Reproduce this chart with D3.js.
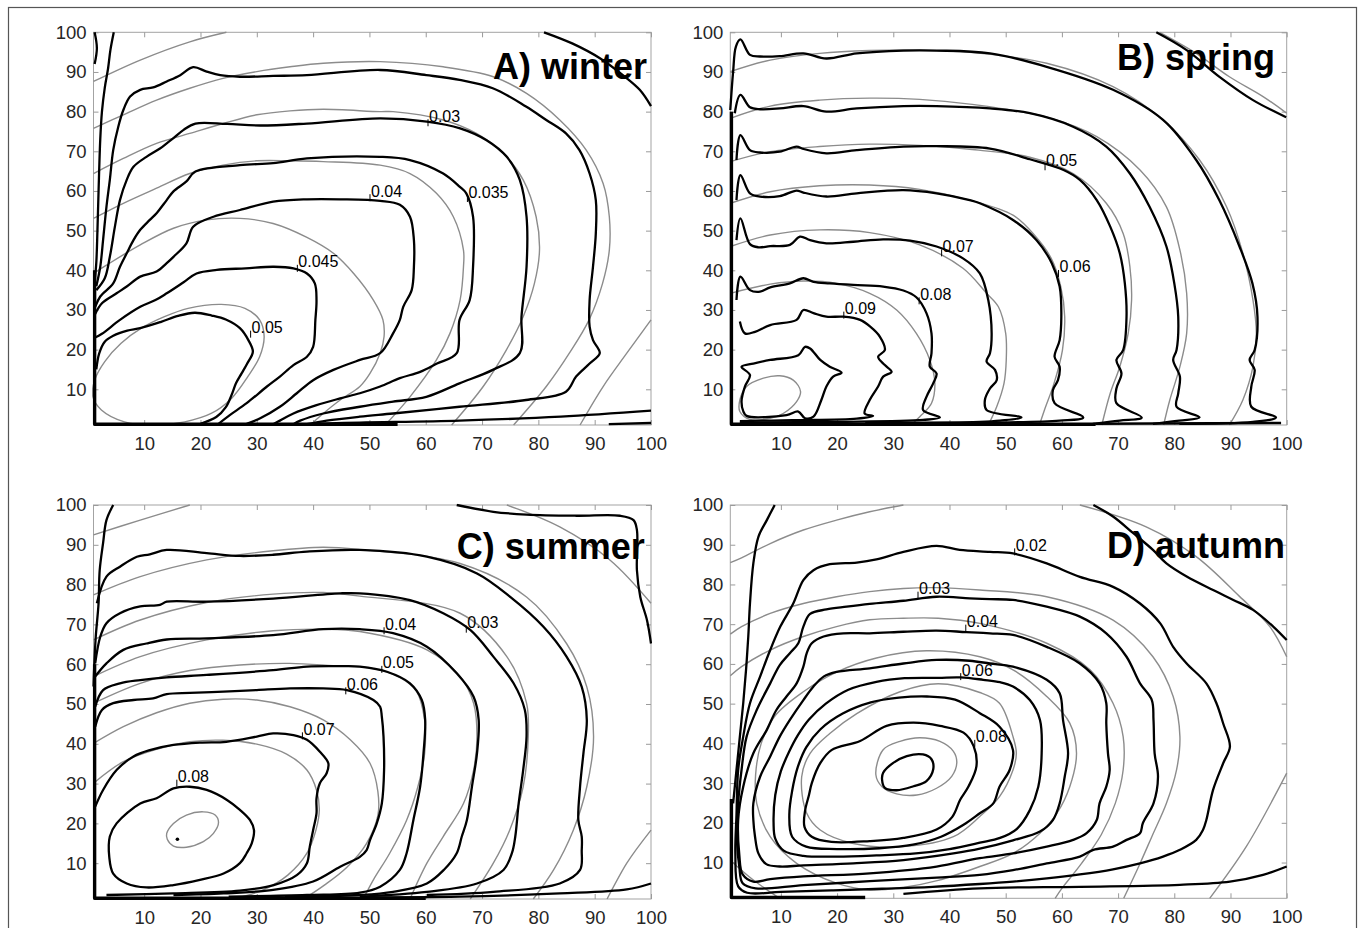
<!DOCTYPE html>
<html lang="en">
<head>
<meta charset="utf-8">
<title>Seasonal density contours</title>
<script src="https://cdn.jsdelivr.net/npm/d3@7"></script>
<style>
  body { margin: 0; background: #fff; }
  svg { display: block; font-family: "Liberation Sans", Arial, sans-serif; }
</style>
</head>
<body>
<script>
// ---- data (axis units 1..100) ----
const ticks = [10, 20, 30, 40, 50, 60, 70, 80, 90, 100];
const seasons = ['A) winter', 'B) spring', 'C) summer', 'D) autumn'];

// A) winter : empirical contours (black)
const winterLines = [
  {level: 0.05, pts: [[1.5,15],[2,19],[3,22],[4.5,23.5],[7,24.8],[9.3,25.4],[13,27],[16,28.5],[19,29.3],[22,28.6],[24.5,27.6],[27,25.4],[28.5,22.4],[29.3,19.5],[28.3,16.5],[27.3,14],[26.3,11.5],[25.5,8.5],[24.5,5.5],[22.8,3],[20,1.3]]},
  {level: 0.045, pts: [[1.2,23],[2.5,24],[5.7,27.5],[9.3,30.8],[12,32.5],[14,34.2],[17,37],[19.3,39.2],[22.9,40.1],[28,40.5],[33,40.9],[36.5,40.5],[38.9,39.2],[40.3,36.7],[40.6,32.5],[40.4,27.5],[40,20.7],[38.9,18.2],[36.5,16.1],[34.1,13.2],[31.8,10.7],[28.2,6.5],[25.2,3.5],[23.2,1.3]]},
  {level: 0.04, pts: [[1.3,29],[2.5,31.7],[5.1,34.2],[6.9,35.9],[9.3,38.4],[12.2,39.7],[14,41.8],[15.2,43.4],[17.5,46.8],[18.7,51],[22.3,53.5],[27,55.2],[32.9,57.3],[38.9,57.9],[44.8,57.9],[51.9,57.5],[55.4,56.5],[57.2,53.5],[57.9,47.6],[57.9,40.9],[57.5,35],[56,30.8],[55.4,27.5],[54.2,24.1],[51.9,19.1],[48.3,17.4],[43.6,14.9],[40,12.3],[37.1,9],[34.1,5.6],[30.6,2.7],[28.2,1.3]]},
  {level: 0.035, pts: [[1.3,30.8],[2.2,33.4],[4.5,36.7],[5.7,40.9],[6.9,44.3],[8.1,47.6],[9.3,50.2],[11,52.7],[12.2,54.4],[14,57.7],[15.2,59.9],[17.5,62.4],[19.1,64.9],[27,66.5],[32.9,67],[38.9,68.2],[51.9,68.6],[57.2,67.8],[63.1,64.4],[66,61.1],[67.2,59.4],[68.4,53.5],[68.4,40.9],[67.8,32.5],[66,27.5],[65.5,19.1],[62,16.5],[59,14.4],[55.4,12.8],[51.9,10.7],[48.3,9],[44.8,7.7],[40.6,6],[36.5,3.9],[34.1,2.1],[32.9,1.2]]},
  {level: 0.03, pts: [[1.5,35],[3,38],[3.9,43.4],[4.8,51],[5.7,57.7],[6.9,62.8],[8.1,66.1],[10.4,68.6],[12.8,70.7],[14,72],[15.2,73.3],[17,75.4],[19.1,77],[24.7,76.9],[30.6,76.5],[38.9,77],[51.9,78.3],[60.2,77.5],[66.1,75.8],[70.8,72.8],[74.4,68.6],[76.7,62.8],[77.9,53.5],[77.9,40.9],[77,28.3],[76.7,19.1],[71.9,14.9],[66,11.5],[60.1,8.1],[54.2,6.9],[48.3,5.6],[41.8,3.9],[37.7,2.1],[36.5,1.2]]},
  {level: 0.025, pts: [[1.5,36],[2.2,40.9],[2.7,47.6],[3.3,56],[3.9,62.8],[4.5,70.3],[5.4,76.2],[6.3,80.4],[7.5,83.8],[9.3,85.5],[11.6,86.1],[14,87.6],[16.4,89.2],[18.7,91.2],[21.1,90.1],[23.5,89.2],[27,88.8],[32.9,89],[38.9,89.2],[51.9,90.5],[60.1,89.2],[66,88],[71.9,85.9],[77.8,81.3],[81.4,77.9],[84.9,74.5],[87.3,70.3],[89.1,64.4],[90.2,57.7],[90.2,49.3],[89.7,40.9],[89.1,32.5],[89.1,25.8],[89.7,22.4],[90.9,19.1],[89.1,16.5],[86.7,13.2],[84.9,9.4],[77.8,7.3],[66,5.6],[54.2,3.9],[48.3,3.1],[42.4,2.1],[38.9,1.2]]},
  {level: 0.02, pts: [[4.6,100],[4,95.5],[3.6,91],[3,86],[2.5,80],[2.2,73],[1.9,60],[1.7,50],[1.5,42],[1.2,37]]},
  {level: 0.02, pts: [[81,100],[86,97.2],[91,93.4],[95,89.2],[98,85.5],[100,81.4]]},
  {level: 0.02, pts: [[40,1.3],[48.3,1.6],[66,2.1],[84,3.1],[100,4.6]]},
  {level: 0.015, pts: [[1.2,100],[1.6,96],[1.2,92]]},
  {level: 0.015, pts: [[92.5,1.2],[100,1.5]]}
];
// A) winter : fitted contours (grey)
const winterFits = [
  {closed: true, pts: [[1.2,12.3],[3,17],[5.9,21.6],[9.5,25.4],[13.6,28.3],[17.8,30.4],[23.7,31.4],[27.9,30.4],[30.5,27.5],[31.3,23.3],[30.5,18.2],[28.4,13.2],[25.5,7.7],[21.9,3.9],[17.2,1.8],[11.9,1],[6.5,1.8],[2.4,4.8],[0.9,8.1]]},
  {pts: [[1,39.2],[3.3,41.3],[9.3,46.4],[15.2,50.6],[21.1,52.7],[27,53.1],[32.9,51.8],[38.9,48.3],[43.6,44.3],[47.2,39.2],[50.7,32.5],[52.4,27.5],[52.6,23.3],[51.9,19.1],[50.1,14],[48.3,10.7],[44.8,7.3],[41.8,3.9],[39.5,1]]},
  {pts: [[1,53.1],[6.3,56.9],[12.2,60.7],[18.1,64.4],[24,66.5],[30,67.6],[35.9,67.6],[41.8,67.4],[51.9,66.5],[57.2,64.4],[61.9,59.4],[64.9,53.5],[66.7,45.1],[66.7,40.9],[66.1,32.5],[64.3,24.1],[61.9,17.4],[57.2,8.1],[52.8,1]]},
  {pts: [[1,64.4],[6.3,68.2],[12.2,72],[18.1,74.5],[24,77],[30,79.2],[35.9,80.2],[41.8,80.6],[51.9,80],[54.2,80],[63.1,77.9],[69,74.5],[73.7,69.5],[77.3,62.8],[79.6,53.5],[80.2,45.1],[79.3,36.7],[77.3,28.3],[74.3,19.9],[70.2,10.7],[64.6,1]]},
  {pts: [[1,75.8],[6.3,79.2],[12.2,82.9],[18.1,85.9],[24,88.4],[30,90.1],[35.9,91.3],[41.8,92.2],[51.9,92.6],[63.1,91.3],[72,88.8],[77.9,84.6],[83.8,77.9],[88.5,70.3],[91.5,61.9],[92.6,53.5],[92.6,45.1],[91.4,36.7],[89,27.5],[85.5,19.1],[81.4,10.7],[75.6,1]]},
  {pts: [[1,87.6],[9.3,93],[18.1,97.6],[24.6,100]]},
  {pts: [[100,27.5],[95.7,19.1],[91.5,10.7],[87.4,1]]}
];
const winterLabels = [['0.03', 60.4, 77.2], ['0.035', 67.4, 58.1], ['0.04', 50.1, 58.3], ['0.045', 37.2, 40.5], ['0.05', 28.9, 23.9]];
const winterEdges = [
  {w: 3.4, pts: [[1.2,40],[1.2,1.2],[55,1.2]]}
];

// B) spring
const springLines = [
  {level: 0.1, closed: true, pts: [[3,15.7],[5.1,16.5],[8.1,17.4],[13.1,18.6],[14.3,20.7],[15.2,20.3],[17,17.4],[18.7,15.7],[20.8,14.2],[19.3,13.2],[18.1,10.7],[17.2,7.3],[15.8,3.1],[14.3,2.7],[13.1,4.4],[11,3.5],[3.9,3.3],[3.3,4.5],[3,7],[3.6,10.7],[4.5,13.6]]},
  {level: 0.09, pts: [[2.7,27.1],[3.6,24.1],[5.4,24.5],[8.1,26.2],[12.8,27.5],[14,30],[15.8,29.2],[18.1,28.3],[21.1,28.3],[24.1,27.5],[25.9,25.8],[27.6,23.3],[28.5,19.9],[27.3,18.2],[28.5,16.1],[29.7,14.4],[28.2,13.2],[27.3,10.7],[25.8,7.3],[24.9,3.9],[26.4,3.3],[23.5,2.6],[12,2.2],[2.7,2]]},
  {level: 0.08, pts: [[2.1,32.5],[2.8,38.4],[4.5,35],[6.3,34.6],[8.1,35.7],[11.6,36.7],[14,38],[15.8,37.1],[18.7,36.7],[22.9,36.3],[28.2,35.9],[31.8,34.9],[34.1,33.2],[35.9,29.2],[36.8,24.1],[36.8,19.1],[36.5,15.7],[37.7,14],[37.1,11.5],[35.9,8.1],[35.3,4.8],[38.3,2.9],[35.3,2.3],[20,1.8],[2.7,1.6]]},
  {level: 0.07, pts: [[2.1,47.6],[2.8,53.1],[4.5,46.6],[6,45.8],[8.1,46.1],[11.6,46.4],[13.4,48.5],[15.2,47.6],[18.1,46.8],[22.9,47.2],[28.2,47.8],[33,47.5],[37.7,46],[42.4,43],[45.4,39.2],[46.9,32.5],[47.5,24.1],[47.2,19.1],[46.6,17],[48.1,14.9],[48.4,12.3],[47.2,10.2],[46.3,7.3],[46.6,4.8],[52.8,2.9],[49,2.1],[45.4,1.8],[25,1.6]]},
  {level: 0.06, pts: [[2.1,57.7],[2.8,64],[4.5,59.4],[6.3,58.6],[9.8,58.7],[12.8,60.1],[14,59.6],[18.1,58.6],[23.5,59.4],[31.8,60.2],[37.7,59.4],[43.6,57.7],[45.4,56.9],[51.3,52.7],[55.5,47.6],[58.2,41.8],[59.6,35.9],[59.9,28.3],[59.6,22.4],[58.7,18.2],[59.6,15.7],[59.3,12.3],[58.4,9.8],[58.7,6.5],[63.8,2.9],[59.6,2.1],[45.4,1.6]]},
  {level: 0.05, pts: [[2.1,67.8],[2.8,74.1],[4.5,70.3],[6.3,69.7],[9.8,69.9],[12.8,71.2],[14,70.6],[18.1,69.5],[23.5,70.3],[31.8,71.2],[37.7,71.3],[47.2,70.7],[54.3,68],[60.3,65.3],[63.2,62.8],[66.2,57.7],[68.6,51],[70.3,44.3],[71.2,36.7],[71.5,28.3],[70.9,19.9],[69.7,17.4],[70.6,14],[69.7,10.2],[69.7,6.5],[74.2,2.9],[70.3,2.1],[65.5,1.3]]},
  {level: 0.04, pts: [[1.8,79.6],[2.8,84.2],[4.5,81.1],[6.3,80.6],[9.8,80.8],[14,81.4],[18.1,80],[23.5,80.8],[31.8,81.4],[37.7,81.4],[47.2,80.8],[54.3,79.6],[62,76.2],[67.9,71.2],[72.1,64.4],[75.6,56],[78.6,46],[80,36.7],[80.7,28.3],[80.4,19.9],[79.8,17.4],[81,13.2],[80.7,9],[80.4,5.6],[84.5,2.9],[80.9,2.1],[76.2,1.3]]},
  {level: 0.03, pts: [[1,80.4],[1.5,90],[2,96.4],[2.8,98.2],[4.5,94.3],[6.3,93.9],[9.8,94],[14,94.7],[18.1,93.4],[23.5,94.7],[31.8,95.4],[37.7,95.4],[47.2,94.7],[57.3,91.3],[69.1,85.5],[78,77.9],[83.9,67.8],[88,57.7],[91.6,46],[93.9,36.7],[94.8,28.3],[94.3,19.9],[93.4,17.4],[94.3,14.9],[93.7,10.7],[93.7,5.6],[98.1,2.9],[94,1.8],[80.9,1.3]]},
  {level: 0.02, pts: [[76.8,100],[82.2,95.5],[88.1,88.7],[94,82.9],[99.9,78.6]]}
];
const springFits = [
  {closed: true, pts: [[2.7,7.3],[3.9,10.7],[6.9,12.8],[9.8,13.4],[12.2,12.3],[13.5,9.4],[12.8,6.9],[10.4,3.9],[8.1,2.7],[4.5,2.4],[2.7,4.4]]},
  {pts: [[1,34.2],[8.1,36.5],[14,37.3],[19.9,36.7],[25.8,34.2],[30.6,30],[34.1,24.1],[36.5,17.4],[37.4,11.5],[36.8,6.5],[35,3.5],[33.2,1]]},
  {pts: [[1,46],[8.1,48.9],[16.9,50.2],[25.8,49.5],[34.7,46.4],[42.4,40.5],[46.6,34.2],[48.7,30.8],[50,24.1],[50.1,17.4],[49.7,11.5],[48.4,5.6],[46.9,1]]},
  {pts: [[1,56.9],[8.1,59.8],[16.9,61.3],[25.8,61.5],[34.7,60.4],[43.6,57.7],[51.3,53.9],[55.1,48.9],[58.1,43],[59.8,35.9],[60.5,28.3],[60.1,19.9],[58.6,11.5],[56.9,4.8],[56,1]]},
  {pts: [[1,67.4],[8.1,69.9],[16.9,71.2],[25.8,71.8],[34.7,71.5],[43.6,70.5],[54.3,68.5],[62,64.4],[67.9,56.9],[70.9,49.3],[72.1,40.9],[72.4,32.5],[71.8,24.1],[70.3,15.7],[68.6,9],[67.1,1]]},
  {pts: [[1,78.3],[8.1,81.4],[16.9,82.9],[25.8,83.4],[34.7,83.1],[43.6,81.9],[57.3,78.6],[66.2,73.7],[73.9,65.3],[78.6,56],[81,45.1],[82.2,34.2],[82.2,24.1],[81,15.7],[79.2,7.3],[78.1,1]]},
  {pts: [[1,90.1],[8.1,93],[16.9,94.7],[25.8,95.4],[34.7,95.5],[45.4,94.7],[57.3,92.2],[69.1,86.3],[78,77.9],[84.5,67.8],[89.3,56],[92.2,44.3],[94,32.5],[94.6,24.1],[94,15.7],[92.2,7.3],[89.8,1]]},
  {pts: [[77.4,100],[83.9,94.7],[89.8,88.8],[95.8,83.8],[100,79.6]]}
];
const springLabels = [['0.05', 57, 66.1], ['0.06', 59.4, 39.2], ['0.07', 38.6, 44.4], ['0.08', 34.6, 32.3], ['0.09', 21.2, 28.7]];
const springEdges = [
  {w: 3.4, pts: [[1.2,80],[1.2,1.2],[66,1.2]]},
  {w: 2.4, pts: [[66,1.3],[99,1.5]]}
];

// C) summer
const summerLines = [
  {level: 0.08, closed: true, pts: [[3.9,16.7],[5.1,20],[9.3,25],[12.2,26.3],[15.2,28.8],[18.1,29.2],[21.1,28.4],[24.7,25.9],[27,23.4],[28.8,20.8],[29.5,18.3],[29.1,15],[28.2,12.5],[27,10],[24.1,7.4],[19.9,5.8],[15.2,4.5],[10.4,3.9],[6.9,4.9],[4.5,7.4],[3.8,11.6]]},
  {level: 0.07, pts: [[1.3,24.2],[2.7,28.4],[5.1,33.4],[8.1,36.8],[11,38.4],[15.2,39.7],[19.9,40.3],[24.6,40.5],[30,41.8],[32.9,42.6],[36.5,42.2],[38.9,41],[41.2,38],[42.7,35.1],[42.4,32.6],[41.2,30.1],[40.6,26.3],[40.6,22.5],[40,18.3],[39.4,14.1],[38.9,10],[37.1,7],[33,4.5],[27,3.1],[15.2,2.4],[3.3,2]]},
  {level: 0.06, pts: [[1.3,44.3],[2.5,48.5],[4.5,50.2],[8.1,51],[11.6,51.4],[14,52.5],[18.1,52.8],[24.1,53.1],[30,53.5],[35.9,53.9],[41.8,53.9],[46,53.5],[50.7,51],[51.9,49.3],[52.2,46.8],[52.5,41.8],[52.6,33.4],[52.2,25],[51.3,20],[50.1,15.8],[49.5,13.3],[48.3,11.6],[44.8,9.1],[40,5.4],[32.9,3.3],[24.1,2.4],[15.2,2]]},
  {level: 0.05, pts: [[1.3,49.3],[2.7,53.5],[5.7,55.2],[9.3,56],[14,56.7],[21.1,57.3],[32.9,58.5],[38.9,59.4],[44.8,59.5],[48.3,59.4],[53.1,58.1],[57.2,55.2],[59.3,51],[59.9,46],[59.6,37.6],[59,29.2],[57.8,20.8],[56.6,12.5],[55.4,8.3],[51.9,4.1],[48.3,2.6],[38.9,2],[25,1.6]]},
  {level: 0.04, pts: [[1.3,56.9],[3.3,60.2],[6.3,63.6],[10.4,65.2],[14,66.2],[21.1,66.5],[32.9,67.3],[41.8,68.8],[48.3,68.8],[54.2,67.8],[60.2,64.4],[65.5,57.7],[68.5,51.8],[69.4,46],[69.1,37.6],[68.2,29.2],[67.3,20.8],[66.4,16.7],[65.5,12.5],[63.2,8.3],[60.2,4.9],[54.2,2.8],[48.3,2],[35,1.5]]},
  {level: 0.03, pts: [[1.3,60.2],[2.2,66.9],[3.3,70.3],[5.7,72.8],[9.3,74.5],[12.8,74.9],[14,75.7],[21.1,75.7],[32.9,76.5],[44.8,77.8],[48.3,77.8],[57.2,76.1],[63.1,72.8],[67.9,68.6],[72,61.9],[75.6,55.2],[77.6,48.5],[77.9,41.8],[77.3,33.4],[76.5,25],[75.9,16.7],[75.3,12.5],[73.8,8.3],[69.1,4.9],[60.2,2.8],[48.3,1.6]]},
  {level: 0.02, pts: [[1.6,75.3],[3.3,82],[5.7,84.5],[8.7,87],[11,87.6],[14,88.7],[21.1,87.9],[27,87.2],[32.9,87.5],[38.9,88.3],[48.3,88.7],[60.2,87],[69.1,82.8],[75,76.9],[80.9,69.4],[85,61.9],[87.7,54.3],[88.6,46],[88,37.6],[87.4,29.2],[87.1,20.8],[87.7,16.7],[87.7,13.3],[87.4,8.3],[83.8,4.9],[72,2.8],[60.2,2]]},
  {level: 0.01, pts: [[4.5,100],[3.3,96.2],[2.7,90.4],[2.1,83.6],[1.9,75.3],[1.4,66.9],[1.1,58.5],[1,54.4]]},
  {level: 0.01, pts: [[65.5,100],[72,98.3],[77.9,97.6],[86.8,97.3],[94.5,97.3],[96.9,96.2],[97.5,93.7],[97.5,83.6],[98.1,76.9],[99.3,71],[100,65.2]]},
  {level: 0.01, pts: [[48.3,1.4],[66,1.6],[83.8,2.4],[95.7,3.4],[100,4.9]]}
];
const summerPeak = [[15.9, 16]];
const summerFits = [
  {closed: true, pts: [[14,17.5],[15.2,20],[17.5,22.1],[20.5,22.9],[22.6,22.1],[23.2,20.2],[22.3,17.5],[20.5,15.4],[17.5,14],[15.2,14.3],[14.1,16]]},
  {pts: [[1,30.1],[6.3,35.5],[12.2,38.6],[18.1,40.5],[24,40.9],[30,39.9],[35.3,37.4],[38.9,33.4],[40.6,28.4],[41.1,23.4],[40.5,18.3],[38.9,12.5],[35.5,7],[31,3.2],[25.8,1]]},
  {pts: [[1,40.1],[6.3,44.3],[12.2,47.8],[18.1,50.2],[24,51.2],[30,51],[35.9,49.3],[41.8,46],[46.6,41],[50.1,35.1],[51.5,28],[51.5,22],[49.5,15],[46,9],[42,4.5],[38.3,1]]},
  {pts: [[1,50.2],[9.3,55.2],[18.1,58.4],[27,59.8],[35.9,60.2],[44.8,59.5],[48.3,59.4],[54.2,57.5],[58.3,53.3],[59.8,46],[59.8,37.6],[58.6,29.2],[56.6,20.8],[53.6,12.5],[50.7,5.8],[48.9,1]]},
  {pts: [[1,56.9],[9.3,61.9],[21.1,66.1],[32.9,68.4],[41.8,68.8],[48.3,68.2],[60.2,63.6],[66.1,56.9],[68.5,50.2],[69.1,41.8],[68.5,33.4],[66.7,25],[63.1,16.7],[60.2,10],[57.2,1]]},
  {pts: [[1,66.1],[9.3,71.1],[21.1,75.5],[32.9,77.6],[41.8,78],[48.3,77.1],[66.1,72.8],[74.4,61.9],[77.9,50.2],[78.2,41.8],[77.3,29.2],[74.9,18.3],[72,10],[67.9,1]]},
  {pts: [[1,77.4],[9.3,82],[21.1,86.2],[32.9,88.5],[41.8,89.4],[48.3,88.8],[66.1,85.3],[77.9,76.9],[85,65.2],[88.6,54.3],[89.8,41.8],[88.6,29.2],[86.2,18.3],[82.7,8.3],[79.1,1]]},
  {pts: [[1,92.5],[9.3,96.2],[18.1,100]]},
  {pts: [[74.4,100],[83.8,94.5],[92.7,86.2],[100,75.3]]},
  {pts: [[100,18.3],[95.7,10],[92.2,1]]}
];
const summerLabels = [['0.03', 67.2, 68.8], ['0.04', 52.6, 68.4], ['0.05', 52.2, 58.7], ['0.06', 45.8, 53.3], ['0.07', 38.1, 42], ['0.08', 15.8, 30.1]];
const summerEdges = [
  {w: 3.4, pts: [[1.2,60],[1.2,1.2],[60,1.2]]}
];

// D) autumn
const autumnLines = [
  {level: 0.09, closed: true, pts: [[28.2,32.6],[30,35.1],[32.4,36.8],[35.3,37.2],[36.8,36],[37.1,33.4],[35.9,30.5],[33.6,29.2],[30.6,28.2],[28.5,28.8],[28,30.9]]},
  {level: 0.08, closed: true, pts: [[15.5,30],[17,35],[19,38.3],[24.1,40.6],[28.8,44.4],[33.6,45.2],[38.3,44.4],[42.5,42.7],[44.3,39.3],[44.8,34.3],[43.4,29.2],[41.9,25.8],[40.5,21.5],[37.7,18.3],[31.8,16.2],[25.8,15.4],[19,15.2],[15.5,16.5],[14.2,19],[14.3,23],[15,27]]},
  {level: 0.07, closed: true, pts: [[11.5,22],[12,28],[13,34],[14.5,39],[17,43.5],[21,47.5],[26,50.3],[31,51.5],[36,51.8],[41,51],[45.4,47.6],[48.9,44.2],[51.3,38.3],[50.7,33.3],[48.9,29.1],[47.8,24.9],[45.4,22.4],[42.5,19.5],[38.5,16.5],[33.5,14.5],[27.5,13.6],[20,13.4],[14.5,14],[12,16.5]]},
  {level: 0.06, closed: true, pts: [[8.7,20],[9,27],[10,33],[11.5,38],[13,42],[15,46],[18,50],[22,53.5],[27,55.5],[32,56.4],[38,56.5],[42,56.6],[46,56],[49,55.4],[51.3,54.3],[54.3,50.9],[56.1,45.9],[56.4,37.5],[55.8,29.1],[54.3,23.2],[52,18.5],[49,16.2],[45.4,15],[40,13.4],[34,12.3],[27,11.8],[20,11.5],[14,11.7],[10.5,13],[9,16]]},
  {level: 0.05, closed: true, pts: [[5.1,24.9],[6.3,31.6],[8.1,36.7],[9.8,41.7],[11.6,45.9],[14,50.9],[15.8,54.3],[17.6,56.8],[19.9,58],[25.8,58.9],[31.8,60.1],[37.7,61],[43.6,60.8],[47.2,60.1],[51.3,59.3],[57.3,56],[59.6,52.6],[60.2,45.9],[61.1,37.5],[60.5,31.6],[59.6,24.9],[58.4,20.7],[56.1,17.8],[51.3,15.6],[45.4,13.5],[40.7,12.3],[31.8,10.6],[22.9,9.8],[14,9.3],[9.8,9],[7.4,9.6],[6,12.3],[5.4,16.5],[5.1,20.7]]},
  {level: 0.04, closed: true, pts: [[2.4,20.7],[3.3,29.1],[5.1,37.5],[7.5,43.4],[9.2,48.4],[11,51.8],[12.8,55.1],[14,59.3],[14.6,62.7],[15.5,65.2],[17.6,66.9],[21.1,67.7],[25.8,67.7],[31.8,68.1],[37.7,68.4],[43,68],[47.2,67.7],[51.3,67.3],[57.3,64.3],[63.2,60.1],[66.7,55.1],[67.9,50.1],[67.9,45],[68.2,37.5],[68.5,33.3],[67.9,29.1],[66.7,24.9],[66.2,20.7],[64.4,17.4],[62,15.7],[57.3,14],[51.3,12.3],[45.4,11.1],[37.7,9],[25.8,7.3],[14,6.5],[8.1,5.8],[5.1,5.2],[3.2,7],[2.6,12]]},
  {level: 0.03, closed: true, pts: [[2.2,15],[2.4,24.9],[3,33.3],[3.9,41.7],[5.7,48.4],[8.1,55.1],[9.8,59.7],[11.6,62.7],[13.1,65.2],[14,69.4],[15.2,72.6],[18.1,73.7],[21.7,74.4],[25.8,75.1],[31.8,75.9],[37.7,76.9],[43.6,76.5],[47.2,76.3],[51.3,76.1],[57.3,74.4],[63.2,71.9],[67.9,67.7],[71.5,61.8],[73.9,55.1],[76,50.9],[76.3,45.9],[76.5,37.5],[77.1,31.6],[76.3,24.9],[74.4,19.9],[73.9,17.4],[71.5,15.7],[69.1,14],[65.6,13.2],[63.2,11.5],[57.3,9.8],[51.3,8.1],[45.4,6.9],[37.7,6.2],[25.8,5.3],[14,4.3],[5.5,3.5],[3.2,4.8],[2.6,9]]},
  {level: 0.02, closed: true, pts: [[1.9,12],[2.1,22],[2.4,33.3],[3.3,41.7],[4.5,50.1],[6.3,56.8],[8.1,63.5],[9.9,69.4],[12.2,75.2],[14,81.1],[15.8,83.6],[18.7,85.1],[23.5,85.5],[27,86.3],[31.8,88.2],[37.7,89.7],[41.8,88.7],[47.2,88.2],[51.3,87.8],[57.3,85.3],[63.2,81.9],[69.1,79.4],[73.9,75.2],[77.5,70.2],[79.8,64.3],[82.2,60.1],[85.7,55.1],[87.5,50.1],[88.7,45],[89.9,39.2],[88.7,35],[86.9,28.3],[85.7,20.7],[85.1,18.2],[83.9,15.7],[81,13.2],[78,11.5],[73.9,9.8],[69.1,8.3],[63.2,7],[57.3,6],[51.3,5.2],[45.4,4.6],[37,3.9],[28,3.4],[19,3],[10,2.6],[4,2.4],[2.4,4]]},
  {level: 0.01, pts: [[8.9,100],[7.5,96.2],[6,92],[5.1,85.3],[4.5,75.2],[4.2,66.9],[3.8,58.5],[3.3,50.1],[2.7,41.7],[2.1,33.3],[1.5,24.9]]},
  {level: 0.01, pts: [[65.6,100],[69.1,97.1],[72.7,92.9],[76.2,88.7],[78.6,85.3],[82.2,82],[86.9,78.6],[90.5,76.1],[94,73.6],[97.6,69.4],[100,66]]},
  {level: 0.01, pts: [[31.8,2.1],[45.4,3.5],[63.2,3.9],[81,4.4],[89.9,5.2],[95.8,6.9],[100,9]]}
];
const autumnFits = [
  {closed: true, pts: [[26.9,32.1],[28.2,38.4],[31.2,40.5],[34.7,41.4],[38.3,40.5],[40.7,38],[41.3,35.1],[40.4,31.7],[37.7,28.7],[34.2,27],[30.6,27.3],[28,29.1]]},
  {closed: true, pts: [[13.7,31.6],[15.2,37.5],[18.7,42.5],[23.5,47.5],[31.2,53],[38,55],[45.4,52.8],[48.9,50.1],[51.3,41.7],[51.9,37.5],[51.3,33.3],[48.9,26.6],[45.4,21.6],[40.7,16.5],[31.8,14],[22.9,14.8],[17,18.2],[14.6,22.4]]},
  {closed: true, pts: [[5.7,24.9],[5.5,32],[6.5,40],[9,47],[14,53],[20,58],[27,61.5],[35.9,63.3],[45.4,61.8],[51.3,58.5],[57.3,51.8],[61.4,45.1],[62.6,37.5],[61.4,29.1],[59.1,22.4],[56.1,17.4],[51.3,12.3],[45.4,9],[38,5.5],[32,3.8],[25.8,3.1],[19.9,4.8],[12.8,9.8],[8.1,16.5]]},
  {pts: [[1,57],[3,59.3],[8.1,63.5],[14,66.9],[19.9,69.4],[25.8,71.1],[31.8,71.5],[38,71.5],[45.4,70.2],[57.3,65.2],[65,58.5],[69.1,50.1],[70.9,41.7],[70.9,33.3],[69.5,24.9],[67,17],[63.5,9.8],[60,3.5],[58.8,1]]},
  {pts: [[1,10.6],[5.1,5.6],[9.8,1]]},
  {pts: [[1,67.5],[3,69.4],[8.1,72.7],[14,75.2],[19.9,76.9],[25.8,78.2],[31.8,79],[37.7,79.2],[45.4,78.6],[57.3,76.9],[69.1,71],[76.2,61.8],[79.8,51.8],[81,41.7],[80.4,33.3],[78.6,24.9],[76,16.5],[73.5,8.5],[71,1]]},
  {pts: [[1,85.5],[3,86.7],[8.1,90.3],[14,93.7],[19.9,96.2],[25.8,98.3],[31.8,100]]},
  {pts: [[63.2,100],[75,94.5],[83.9,87],[91.6,77],[97,69.4],[100,61.8]]},
  {pts: [[86.3,1],[92.8,14],[100,32.5]]}
];
const autumnLabels = [['0.02', 51.6, 88.2], ['0.03', 34.4, 77.3], ['0.04', 42.9, 69], ['0.06', 42, 56.8], ['0.08', 44.5, 40]];
const autumnEdges = [
  {w: 3.4, pts: [[1.2,26],[1.2,1.2],[25,1.2]]}
];

// ---- layout ----
const W = 1360, H = 928;
const panels = [
  {title: seasons[0], box: [93.5, 32.3, 651, 425], titleAt: [99.3, 88.2], lines: winterLines, fits: winterFits, labels: winterLabels, edges: winterEdges},
  {title: seasons[1], box: [730.3, 32.3, 1286.7, 425], titleAt: [97.9, 90.5], lines: springLines, fits: springFits, labels: springLabels, edges: springEdges},
  {title: seasons[2], box: [93.5, 505, 651, 899], titleAt: [98.9, 86.4], lines: summerLines, fits: summerFits, labels: summerLabels, edges: summerEdges, dots: summerPeak},
  {title: seasons[3], box: [730.3, 505, 1286.7, 898.3], titleAt: [99.7, 86.7], lines: autumnLines, fits: autumnFits, labels: autumnLabels, edges: autumnEdges}
];

const svg = d3.select('body').append('svg').attr('width', W).attr('height', H);

// outer frame of the figure
svg.append('rect')
  .attr('x', 8.5).attr('y', 7.5).attr('width', 1348).attr('height', 940)
  .attr('fill', 'none').attr('stroke', '#555').attr('stroke-width', 1.2);

panels.forEach(drawPanel);

function drawPanel(p, i) {
  const [x0, y0, x1, y1] = p.box;
  const x = d3.scaleLinear().domain([1, 100]).range([x0, x1]);
  const y = d3.scaleLinear().domain([1, 100]).range([y1, y0]);

  const clipId = 'clip' + i;
  svg.append('clipPath').attr('id', clipId).append('rect')
    .attr('x', x0 - 1.5).attr('y', y0 - 1.5)
    .attr('width', x1 - x0 + 3).attr('height', y1 - y0 + 3);

  const g = svg.append('g');

  // axes box
  g.append('rect')
    .attr('x', x0).attr('y', y0).attr('width', x1 - x0).attr('height', y1 - y0)
    .attr('fill', 'none').attr('stroke', '#a3a3a3').attr('stroke-width', 1);

  const styleAxis = a => {
    a.select('.domain').remove();
    a.selectAll('.tick line').attr('stroke', '#9a9a9a');
    a.selectAll('.tick text').attr('fill', '#262626');
    a.attr('font-family', '"Liberation Sans", Arial, sans-serif').attr('font-size', 18.5);
  };
  g.append('g').attr('transform', `translate(0,${y1})`)
    .call(d3.axisBottom(x).tickValues(ticks).tickSizeInner(-5).tickSizeOuter(0).tickPadding(12))
    .call(styleAxis);
  g.append('g').attr('transform', `translate(${x0},0)`)
    .call(d3.axisLeft(y).tickValues(ticks).tickSizeInner(-5).tickSizeOuter(0).tickPadding(7))
    .call(styleAxis);
  g.append('g').attr('transform', `translate(0,${y0})`)
    .call(d3.axisTop(x).tickValues(ticks).tickSizeInner(-5).tickSizeOuter(0).tickFormat(() => ''))
    .call(styleAxis);
  g.append('g').attr('transform', `translate(${x1},0)`)
    .call(d3.axisRight(y).tickValues(ticks).tickSizeInner(-5).tickSizeOuter(0).tickFormat(() => ''))
    .call(styleAxis);

  const open = d3.line().x(d => x(d[0])).y(d => y(d[1])).curve(d3.curveCatmullRom.alpha(0.5));
  const closed = d3.line().x(d => x(d[0])).y(d => y(d[1])).curve(d3.curveCatmullRomClosed.alpha(0.5));

  const plot = g.append('g').attr('clip-path', `url(#${clipId})`);

  // fitted (grey) contours
  plot.selectAll('path.fit').data(p.fits).join('path')
    .attr('class', 'fit')
    .attr('d', d => (d.closed ? closed : open)(d.pts))
    .attr('fill', 'none').attr('stroke', '#8c8c8c').attr('stroke-width', 1.4);

  // density pile-up along the axes
  plot.selectAll('path.edge').data(p.edges).join('path')
    .attr('class', 'edge')
    .attr('d', d => d3.line().x(v => x(v[0])).y(v => y(v[1]))(d.pts))
    .attr('fill', 'none').attr('stroke', '#000').attr('stroke-width', d => d.w)
    .attr('stroke-linejoin', 'round');

  // empirical (black) contours
  plot.selectAll('path.emp').data(p.lines).join('path')
    .attr('class', 'emp')
    .attr('d', d => (d.closed ? closed : open)(d.pts))
    .attr('fill', 'none').attr('stroke', '#000').attr('stroke-width', 2.3)
    .attr('stroke-linejoin', 'round');

  if (p.dots) {
    plot.selectAll('circle').data(p.dots).join('circle')
      .attr('cx', d => x(d[0])).attr('cy', d => y(d[1])).attr('r', 1.8).attr('fill', '#000');
  }

  // contour labels with their small marker ticks
  const lab = g.selectAll('g.lab').data(p.labels).join('g')
    .attr('class', 'lab')
    .attr('transform', d => `translate(${x(d[1])},${y(d[2])})`);
  lab.append('path').attr('d', 'M0,-3.5V3.5').attr('stroke', '#000').attr('stroke-width', 1);
  lab.append('text').text(d => d[0])
    .attr('x', 1).attr('y', -1)
    .attr('font-size', 16).attr('fill', '#000');

  g.append('text')
    .attr('x', x(p.titleAt[0])).attr('y', y(p.titleAt[1]))
    .attr('text-anchor', 'end')
    .attr('font-size', 36).attr('font-weight', 'bold').attr('fill', '#000')
    .text(p.title);
}
</script>
</body>
</html>
